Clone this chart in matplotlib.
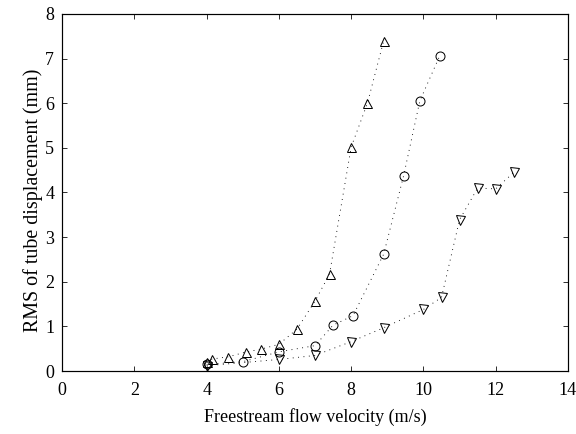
import matplotlib
matplotlib.use('Agg')
import matplotlib.pyplot as plt

# triangle-up series
v_up = [4.0, 4.15, 4.6, 5.1, 5.5, 6.0, 6.5, 7.0, 7.4, 8.0, 8.45, 8.9]
d_up = [0.2, 0.27, 0.32, 0.43, 0.49, 0.6, 0.94, 1.57, 2.17, 5.02, 6.0, 7.4]

# circle series
v_circ = [4.0, 5.0, 6.0, 7.0, 7.5, 8.05, 8.9, 9.45, 9.9, 10.45]
d_circ = [0.15, 0.21, 0.43, 0.57, 1.03, 1.24, 2.62, 4.37, 6.05, 7.06]

# triangle-down series
v_down = [4.0, 6.0, 7.0, 8.0, 8.9, 10.0, 10.5, 11.0, 11.5, 12.0, 12.5]
d_down = [0.12, 0.26, 0.35, 0.66, 0.97, 1.38, 1.65, 3.39, 4.1, 4.08, 4.45]

plt.rcParams['font.family'] = 'Liberation Serif'

fig = plt.figure(figsize=(8.0, 434/72), dpi=72)
ax = fig.add_axes([0.108, 0.145, 0.878, 0.823])

mk = dict(color='black', linestyle=(0, (1, 5)), linewidth=0.9, markersize=9,
          markerfacecolor='none', markeredgecolor='black', markeredgewidth=1.0)
ax.plot(v_up, d_up, marker='^', **mk)
ax.plot(v_circ, d_circ, marker='o', **mk)
ax.plot(v_down, d_down, marker='v', **mk)

ax.set_xlim(0, 14)
ax.set_ylim(0, 8)
ax.set_xticks(range(0, 15, 2))
ax.set_yticks(range(0, 9))
ax.tick_params(direction='in', top=True, right=True, labelsize=18, length=5)
ax.tick_params(axis='x', pad=11)
ax.tick_params(axis='y', pad=8)
ax.set_xlabel('Freestream flow velocity (m/s)', fontsize=18, labelpad=9)
ax.set_ylabel('RMS of tube displacement (mm)', fontsize=20)
ax.yaxis.set_label_coords(-0.037, 0.478)
for s in ax.spines.values():
    s.set_linewidth(1.2)

fig.savefig('out.png', dpi=72)
